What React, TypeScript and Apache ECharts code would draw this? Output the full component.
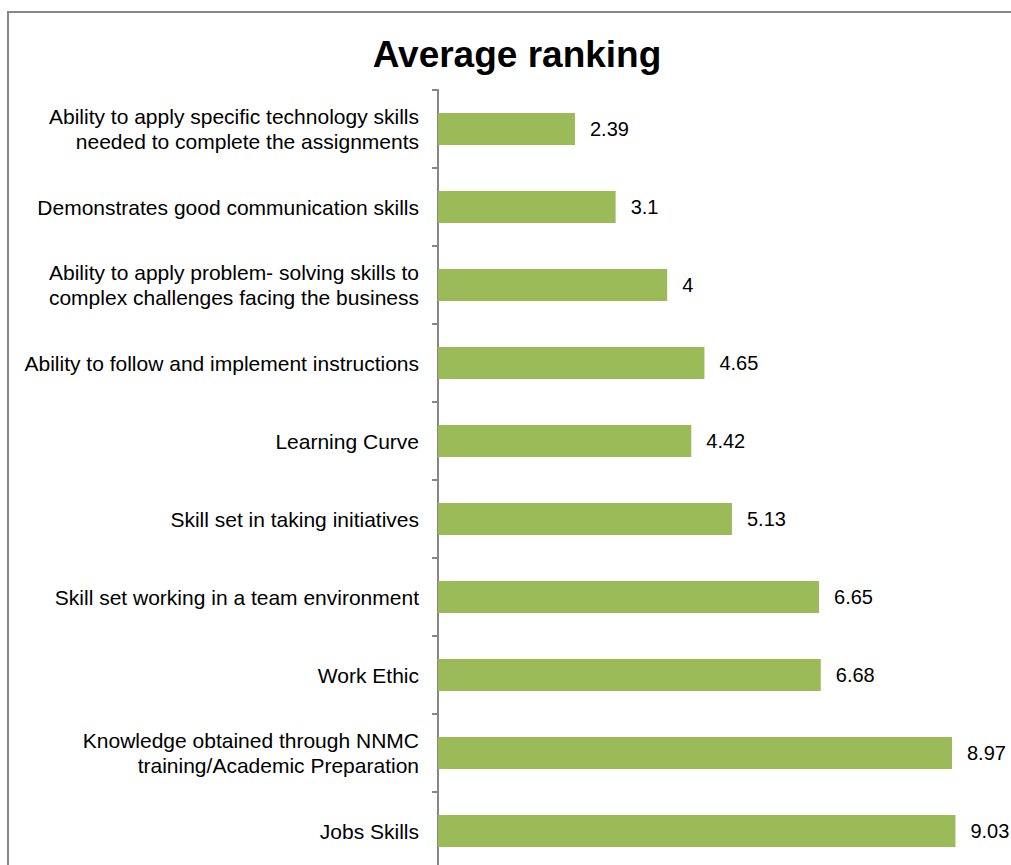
import React, { useEffect, useRef } from "react";
import * as echarts from "echarts";

const categories = [
  "Ability to apply specific technology skills\nneeded to complete the assignments",
  "Demonstrates good communication skills",
  "Ability to apply problem- solving skills to\ncomplex challenges facing the business",
  "Ability to follow and implement instructions",
  "Learning Curve",
  "Skill set in taking initiatives",
  "Skill set working in a team environment",
  "Work Ethic",
  "Knowledge obtained through NNMC\ntraining/Academic Preparation",
  "Jobs Skills",
];
const values = [2.39, 3.1, 4, 4.65, 4.42, 5.13, 6.65, 6.68, 8.97, 9.03];
const labels = ["2.39", "3.1", "4", "4.65", "4.42", "5.13", "6.65", "6.68", "8.97", "9.03"];

export default function App() {
  const ref = useRef<HTMLDivElement>(null);
  useEffect(() => {
    if (!ref.current) return;
    const chart = echarts.init(ref.current, undefined, { renderer: "svg" });
    chart.setOption({
      animation: false,
      backgroundColor: "#ffffff",
      title: {
        text: "Average ranking",
        left: 512,
        top: 31,
        textAlign: "center",
        textStyle: {
          fontFamily: "Liberation Sans, Arial, sans-serif",
          fontSize: 37,
          fontWeight: "bold",
          color: "#000000",
        },
      },
      graphic: [
        {
          type: "rect",
          shape: { x: 8, y: 12, width: 1100, height: 1000 },
          style: { fill: "none", stroke: "#878787", lineWidth: 2 },
          silent: true,
        },
      ],
      grid: { left: 438, top: 90, width: 573, height: 780 },
      xAxis: {
        type: "value",
        min: 0,
        max: 10,
        show: false,
      },
      yAxis: {
        type: "category",
        inverse: true,
        data: categories,
        axisLine: { show: true, lineStyle: { color: "#868686", width: 2 } },
        axisTick: { show: true, length: 6, lineStyle: { color: "#868686", width: 2 } },
        axisLabel: {
          margin: 19,
          fontFamily: "Liberation Sans, Arial, sans-serif",
          fontSize: 21,
          lineHeight: 25,
          color: "#000000",
          align: "right",
        },
        splitLine: { show: false },
      },
      series: [
        {
          type: "bar",
          data: values,
          barWidth: "41%",
          itemStyle: { color: "#9BBB59" },
          label: {
            show: true,
            position: "right",
            distance: 15,
            formatter: (p: any) => labels[p.dataIndex],
            fontFamily: "Liberation Sans, Arial, sans-serif",
            fontSize: 20,
            color: "#000000",
          },
        },
      ],
    });
    return () => chart.dispose();
  }, []);
  return (
    <div
      ref={ref}
      style={{ position: "fixed", left: 0, top: 0, width: 1040, height: 890 }}
    />
  );
}
